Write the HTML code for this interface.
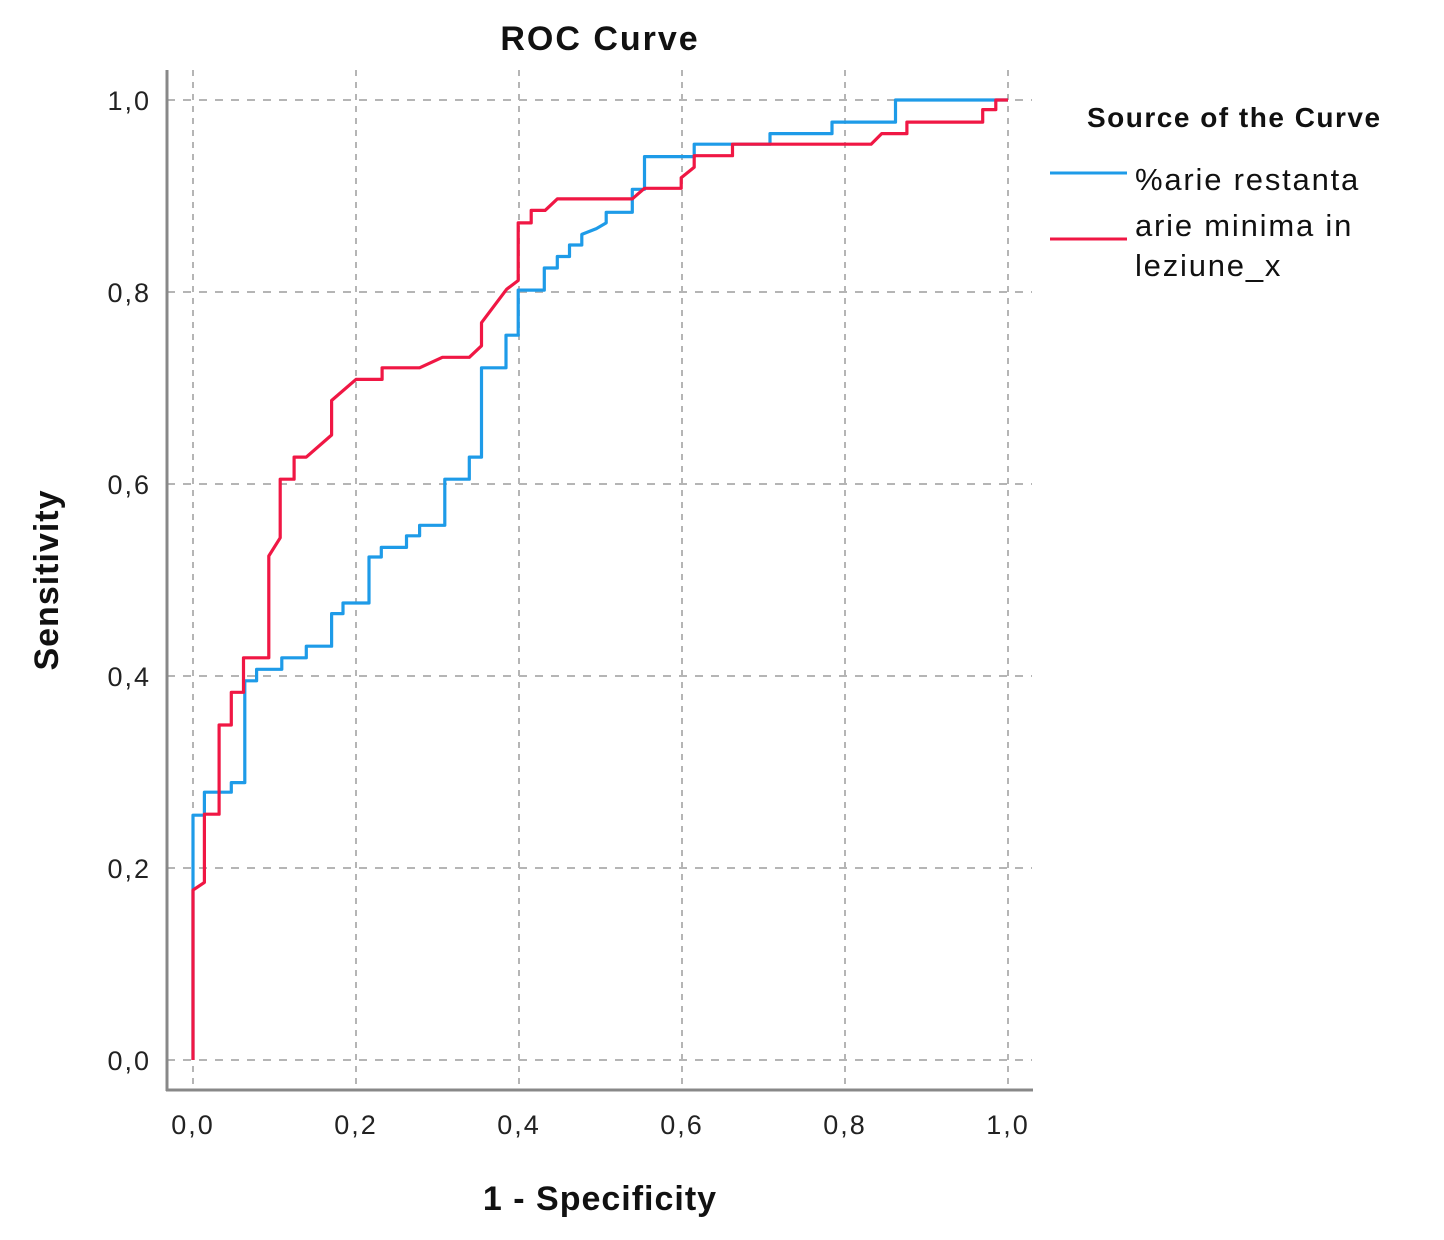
<!DOCTYPE html>
<html><head><meta charset="utf-8"><style>
body{margin:0;background:#fff;}
svg{display:block;font-family:"Liberation Sans",sans-serif;}
</style></head><body>
<svg id="chart" width="1444" height="1240" viewBox="0 0 1444 1240">
<rect width="1444" height="1240" fill="#fff"/>
<text x="600" y="50" text-anchor="middle" font-size="34" font-weight="bold" fill="#111" letter-spacing="2">ROC Curve</text>
<g id="grid"></g>
<g id="curves"></g>
<line x1="167" y1="70" x2="167" y2="1091" stroke="#888" stroke-width="3"/>
<line x1="166" y1="1090" x2="1033" y2="1090" stroke="#888" stroke-width="3"/>
<g id="ticks" font-size="27" fill="#222" letter-spacing="2"></g>
<text x="600" y="1210" text-anchor="middle" font-size="34" font-weight="bold" fill="#111" letter-spacing="1">1 - Specificity</text>
<text transform="translate(58,580) rotate(-90)" text-anchor="middle" font-size="34" font-weight="bold" fill="#111" letter-spacing="1">Sensitivity</text>
<g>
<text x="1087" y="127" font-size="28" font-weight="bold" fill="#111" letter-spacing="1.5">Source of the Curve</text>
<g>
<line x1="1050" y1="173" x2="1127" y2="173" stroke="#1e9be8" stroke-width="3"/>
<text x="1135" y="190" font-size="31" fill="#111" letter-spacing="1.8">%arie restanta</text>
</g>
<g>
<line x1="1050" y1="239" x2="1127" y2="239" stroke="#f01744" stroke-width="3"/>
<text x="1135" y="236" font-size="31" fill="#111" letter-spacing="1.8">arie minima in</text>
<text x="1135" y="276" font-size="31" fill="#111" letter-spacing="1.8">leziune_x</text>
</g>
</g>
</svg>
<script>
const xTicks=[0,0.2,0.4,0.6,0.8,1.0];
const yTicks=[0,0.2,0.4,0.6,0.8,1.0];
const tickLabels=["0,0","0,2","0,4","0,6","0,8","1,0"];
const blueFpr=[0,0,0,0.014,0.014,0.047,0.047,0.0635,0.0635,0.078,0.078,0.109,0.109,0.139,0.139,0.170,0.170,0.184,0.184,0.216,0.216,0.231,0.231,0.262,0.262,0.278,0.278,0.309,0.309,0.339,0.339,0.354,0.354,0.384,0.384,0.399,0.399,0.431,0.431,0.447,0.447,0.462,0.462,0.477,0.477,0.495,0.507,0.507,0.539,0.539,0.554,0.554,0.615,0.615,0.708,0.708,0.784,0.784,0.862,0.862,1.0];
const blueTpr=[0,0.177,0.255,0.255,0.279,0.279,0.289,0.289,0.395,0.395,0.407,0.407,0.419,0.419,0.431,0.431,0.465,0.465,0.476,0.476,0.524,0.524,0.534,0.534,0.546,0.546,0.557,0.557,0.605,0.605,0.628,0.628,0.721,0.721,0.755,0.755,0.802,0.802,0.825,0.825,0.837,0.837,0.849,0.849,0.860,0.866,0.872,0.883,0.883,0.907,0.907,0.941,0.941,0.954,0.954,0.965,0.965,0.977,0.977,1.0,1.0];
const redFpr=[0,0,0.014,0.014,0.032,0.032,0.047,0.047,0.062,0.062,0.093,0.093,0.107,0.107,0.124,0.124,0.139,0.170,0.170,0.200,0.232,0.232,0.278,0.306,0.339,0.354,0.354,0.385,0.399,0.399,0.415,0.415,0.432,0.447,0.539,0.554,0.599,0.599,0.615,0.615,0.662,0.662,0.832,0.845,0.876,0.876,0.969,0.969,0.985,0.985,1.0];
const redTpr=[0,0.177,0.185,0.256,0.256,0.349,0.349,0.383,0.383,0.419,0.419,0.525,0.544,0.605,0.605,0.628,0.628,0.651,0.687,0.709,0.709,0.721,0.721,0.732,0.732,0.744,0.768,0.803,0.812,0.872,0.872,0.885,0.885,0.897,0.897,0.908,0.908,0.919,0.930,0.942,0.942,0.954,0.954,0.965,0.965,0.977,0.977,0.990,0.990,1.0,1.0];
const X0=193,X1=1008,Y0=1060,Y1=100;
function sx(v){return X0+v*(X1-X0);}
function sy(v){return Y0-v*(Y0-Y1);}
const NS="http://www.w3.org/2000/svg";
const grid=document.getElementById('grid'),ticks=document.getElementById('ticks'),curves=document.getElementById('curves');
function mk(tag,attrs,parent){const e=document.createElementNS(NS,tag);for(const k in attrs)e.setAttribute(k,attrs[k]);parent.appendChild(e);return e;}
xTicks.forEach((v,i)=>{
  const l=mk('line',{x1:sx(v),x2:sx(v),y1:70,y2:1090,stroke:'#b5b5b5','stroke-width':2,'stroke-dasharray':'6,6'},grid);
  
  
  const t=mk('text',{x:sx(v),y:1134,'text-anchor':'middle'},ticks);
  t.textContent=tickLabels[i];
  
  
});
yTicks.forEach((v,i)=>{
  const l=mk('line',{x1:167,x2:1032,y1:sy(v),y2:sy(v),stroke:'#b5b5b5','stroke-width':2,'stroke-dasharray':'8,8'},grid);
  
  
  const t=mk('text',{x:151,y:sy(v)+10,'text-anchor':'end'},ticks);
  t.textContent=tickLabels[i];
  
  
});
function drawCurve(fx,ty,color,name){
  const pts=fx.map((v,i)=>sx(v).toFixed(1)+','+sy(ty[i]).toFixed(1)).join(' ');
  const p=mk('polyline',{points:pts,fill:'none',stroke:color,'stroke-width':3.2,'stroke-linejoin':'round'},curves);
  
  
}
drawCurve(blueFpr,blueTpr,'#1e9be8','curve-arie-restanta');
drawCurve(redFpr,redTpr,'#f01744','curve-arie-minima');
</script>
</body></html>
